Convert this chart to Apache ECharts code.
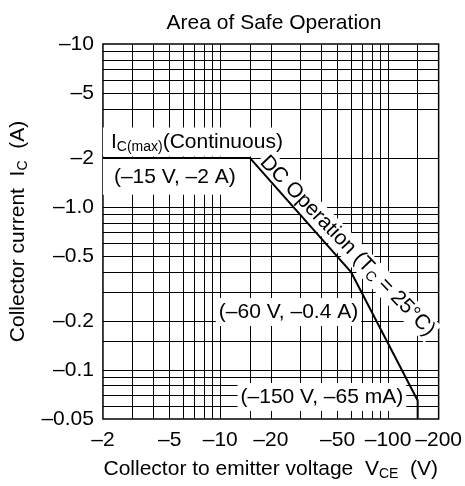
<!DOCTYPE html>
<html>
<head>
<meta charset="utf-8">
<title>Area of Safe Operation</title>
<script src="https://cdn.jsdelivr.net/npm/echarts@6/dist/echarts.min.js"></script>
<style>html,body{margin:0;padding:0;background:#fff;}</style>
</head>
<body>
<div id="main" style="width:465px;height:486px;"></div>
<script>
// SOA boundary, magnitudes (PNP device, labels carry the minus sign)
var vce = [2, 15, 60, 150, 150];
var ic = [2, 2, 0.4, 0.065, 0.05];

// axis ticks
var xTicks = [2, 5, 10, 20, 50, 100, 200];
var xTickLabels = ['–2', '–5', '–10', '–20', '–50', '–100', '–200'];
var yTicks = [10, 5, 2, 1, 0.5, 0.2, 0.1, 0.05];
var yTickLabels = ['–10', '–5', '–2', '–1.0', '–0.5', '–0.2', '–0.1', '–0.05'];

// lines of the log paper
var xGrid = [3, 4, 5, 6, 7, 8, 9, 10, 15, 20, 30, 40, 50, 60, 70, 80, 90, 100, 150];
var yGrid = [9, 8, 7, 6, 5, 4, 2, 1, 0.9, 0.8, 0.7, 0.6, 0.5, 0.4, 0.3, 0.2, 0.15, 0.1, 0.09, 0.08, 0.07, 0.06];

var FONT = 'Liberation Sans, Arial, sans-serif';
var FS = 21;

function pick(ticks, labels) {
    return function (v) {
        var best = 0;
        for (var i = 1; i < ticks.length; i++) {
            if (Math.abs(Math.log(ticks[i] / v)) < Math.abs(Math.log(ticks[best] / v))) best = i;
        }
        return labels[best];
    };
}

var rich = {
    n: { fontFamily: FONT, fontSize: FS, color: '#000', lineHeight: 24 },
    s: { fontFamily: FONT, fontSize: 14, color: '#000', lineHeight: 12, verticalAlign: 'bottom' }
};

// annotation boxes: anchor in [V, A]
function note(at, text, extra) {
    var lab = {
        show: true,
        position: 'inside',
        formatter: text,
        rich: rich,
        opacity: 1,
        backgroundColor: '#fff',
        padding: [2, 3]
    };
    for (var k in extra) lab[k] = extra[k];
    return { value: at, label: lab };
}

var myChart = echarts.init(document.getElementById('main'));
var option = {
    animation: false,
    title: {
        text: 'Area of Safe Operation',
        left: 269,
        top: 8,
        textAlign: 'center',
        textStyle: { fontFamily: FONT, fontSize: FS, fontWeight: 'normal', color: '#000' }
    },
    grid: {
        left: 97, right: 26, top: 44, bottom: 67,
        show: true, borderColor: '#000', borderWidth: 1.5, backgroundColor: 'transparent'
    },
    xAxis: {
        type: 'log',
        min: 2,
        max: 200,
        name: '{n|Collector to emitter voltage  V}{s|CE}{n|  (V)}',
        nameLocation: 'middle',
        nameGap: 38,
        nameTextStyle: { rich: rich },
        axisLine: { show: false },
        axisTick: { show: false },
        splitLine: { show: false },
        axisLabel: {
            customValues: xTicks,
            formatter: pick(xTicks, xTickLabels),
            fontFamily: FONT, fontSize: FS, color: '#000', margin: 11
        }
    },
    yAxis: {
        type: 'log',
        min: 0.05,
        max: 10,
        name: '{n|Collector current  I}{s|C}{n|  (A)}',
        nameLocation: 'middle',
        nameRotate: 90,
        nameGap: 63,
        nameTextStyle: { rich: rich },
        axisLine: { show: false },
        axisTick: { show: false },
        splitLine: { show: false },
        axisLabel: {
            customValues: yTicks,
            formatter: pick(yTicks, yTickLabels),
            fontFamily: FONT, fontSize: FS, color: '#000', margin: 9
        }
    },
    series: [
        {
            // paper grid
            type: 'line',
            data: [],
            z: 1,
            silent: true,
            markLine: {
                silent: true,
                symbol: ['none', 'none'],
                label: { show: false },
                lineStyle: { color: '#000', width: 1, type: 'solid', opacity: 1 },
                data: xGrid.map(function (v) { return { xAxis: v }; })
                    .concat(yGrid.map(function (v) { return { yAxis: v }; }))
            }
        },
        {
            type: 'scatter',
            symbolSize: 0,
            silent: true,
            z: 5,
            itemStyle: { opacity: 1 },
            data: [
                note([2, 2.5], '{n|I}{s|C(max)}{n|(Continuous)}', { align: 'left', padding: [3, 6, 2, 8] }),
                note([2, 1.53], '{n|(–15 V, –2 A)}', { align: 'left', padding: [6, 14, 6, 11] }),
                note([57.2, 0.577], '{n|DC Operation (T}{s|C}{n| = 25°C)}', { rotate: -46, padding: [0, 2] }),
                note([25.5, 0.227], '{n|(–60 V, –0.4 A)}'),
                note([40.3, 0.0682], '{n|(–150 V, –65 mA)}')
            ]
        },
        {
            type: 'line',
            z: 10,
            silent: true,
            symbol: 'none',
            lineStyle: { color: '#000', width: 2 },
            data: vce.map(function (v, i) { return [v, ic[i]]; })
        }
    ]
};
myChart.setOption(option);
</script>
</body>
</html>
